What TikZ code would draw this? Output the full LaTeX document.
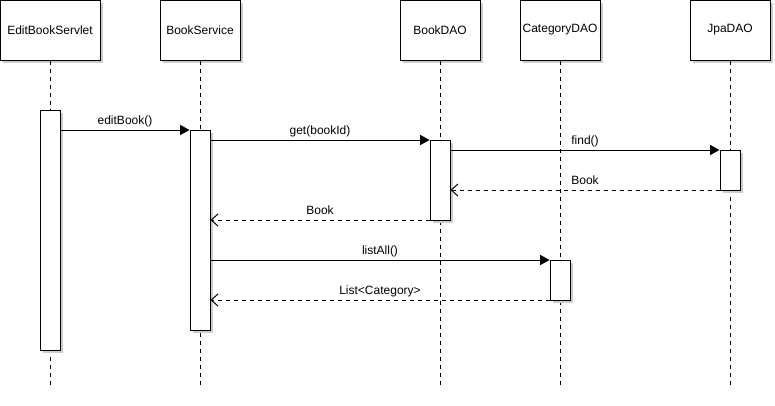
\documentclass[tikz,border=0pt]{standalone}
\usepackage{fontspec}
\setmainfont{Liberation Sans}
\usetikzlibrary{arrows.meta,shadows}
\begin{document}
\begin{tikzpicture}[x=0.75pt,y=-0.75pt,line width=0.75pt,
  font=\fontsize{9pt}{11pt}\selectfont,
  shad/.style={drop shadow={shadow xshift=2.25pt,shadow yshift=-2.25pt,opacity=1,fill=black!20}},
  head/.style={draw,fill=white,shad,minimum width=60pt,minimum height=45pt,inner sep=0pt},
  act/.style={draw,fill=white,shad,minimum width=15pt,inner sep=0pt},
  life/.style={dash pattern=on 3pt off 3pt},
  sync/.style={-{Triangle[length=7pt,width=7.5pt]}},
  ret/.style={dash pattern=on 3pt off 3pt,-{Straight Barb[length=5pt,width=9pt]}},
  lbl/.style={midway,anchor=base,yshift=4.5pt,inner sep=0pt}]
\useasboundingbox (0,0) rectangle (775,405);
% headers
\node[head,minimum width=75pt] (h1) at (50,30) {EditBookServlet};
\node[head] (h2) at (200,30) {BookService};
\node[head] (h3) at (440,30) {BookDAO};
\node[head] (h4) at (560,30) {CategoryDAO};
\node[head] (h5) at (730,30) {JpaDAO};
% lifeline ends
\coordinate (e1) at (50,385);
\coordinate (e2) at (200,385);
\coordinate (e3) at (440,385);
\coordinate (e4) at (560,385);
\coordinate (e5) at (730,385);
\draw[life] (h1.south) -- (e1);
\draw[life] (h2.south) -- (e2);
\draw[life] (h3.south) -- (e3);
\draw[life] (h4.south) -- (e4);
\draw[life] (h5.south) -- (e5);
% activations
\node[act,minimum height=180pt] (a1) at (50,230) {};
\node[act,minimum height=150pt] (a2) at (200,230) {};
\node[act,minimum height=60pt] (a3) at (440,180) {};
\node[act,minimum height=30pt] (a4) at (730,170) {};
\node[act,minimum height=30pt] (a5) at (560,280) {};
% messages
\draw[sync] (a1.east |- 0,130) -- node[lbl]{editBook()} (a2.west |- 0,130);
\draw[sync] (a2.east |- 0,140) -- node[lbl]{get(bookId)} (a3.west |- 0,140);
\draw[sync] (a3.east |- 0,150) -- node[lbl]{find()} (a4.west |- 0,150);
\draw[ret] (a4.west |- 0,190) -- node[lbl]{Book} (a3.east |- 0,190);
\draw[ret] (a3.west |- 0,220) -- node[lbl]{Book} (a2.east |- 0,220);
\draw[sync] (a2.east |- 0,260) -- node[lbl]{listAll()} (a5.west |- 0,260);
\draw[ret] (a5.west |- 0,300) -- node[lbl]{List<Category>} (a2.east |- 0,300);
\end{tikzpicture}
\end{document}
